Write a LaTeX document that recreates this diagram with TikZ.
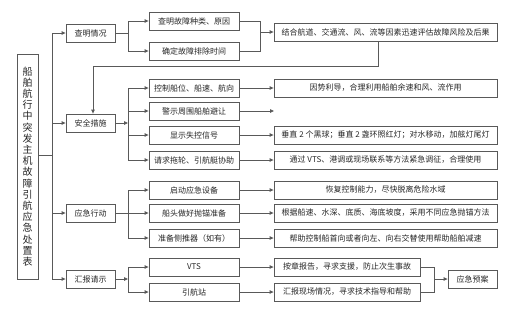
\documentclass[tikz,border=0pt]{standalone}
\usepackage{fontspec}
\newfontfamily\cjk{Noto Sans CJK SC}
\usetikzlibrary{arrows.meta}

\begin{document}
\begin{tikzpicture}[
    x=1pt, y=-1pt,
    every node/.style={font=\cjk\fontsize{8}{9.6}\selectfont, text=black!85},
    box/.style={draw=black!65, line width=0.8pt, minimum height=18pt, inner sep=1pt},
    lvone/.style={box, minimum width=49pt},
    lvtwo/.style={box, minimum width=90pt},
    lvthree/.style={box, minimum width=223pt},
    link/.style={draw=black!65, line width=0.8pt},
    arrow/.style={link, -{Triangle[length=4pt, width=3.5pt]}},
]
\useasboundingbox (0,0) rectangle (514,317);

% ---- 坐标设定 ----
\def\TrunkX{52}
\def\BranchX{128}
\def\MergeX{260}
\def\PlanX{434}
\coordinate (join) at (\TrunkX,155);
\coordinate (bx) at (\BranchX,0);
\coordinate (mx) at (\MergeX,0);
\coordinate (px) at (\PlanX,0);

% ---- 标题 ----
\node[box, minimum width=21pt, minimum height=225pt, align=center,
      font=\cjk\fontsize{10}{11.2}\selectfont] (title) at (27.5,166.5)
    {船\\舶\\航\\行\\中\\突\\发\\主\\机\\故\\障\\引\\航\\应\\急\\处\\置\\表};

% ---- 第一级 ----
\node[lvone] (cha)    at (90.5,33)  {查明情况};
\node[lvone] (anquan) at (90.5,123) {安全措施};
\node[lvone] (yingji) at (90.5,213) {应急行动};
\node[lvone] (huibao) at (90.5,279) {汇报请示};

% ---- 第二级 ----
\node[lvtwo] (guz)      at (194,21)  {查明故障种类、原因};
\node[lvtwo] (qued)     at (194,51)  {确定故障排除时间};
\node[lvtwo] (kongzhi)  at (194,88)  {控制船位、船速、航向};
\node[lvtwo] (jingshi)  at (194,111) {警示周围船舶避让};
\node[lvtwo] (xianshi)  at (194,135) {显示失控信号};
\node[lvtwo] (qiuzhu)   at (194,160) {请求拖轮、引航艇协助};
\node[lvtwo] (qidong)   at (194,190) {启动应急设备};
\node[lvtwo] (chuantou) at (194,213) {船头做好抛锚准备};
\node[lvtwo] (cetui)    at (194,238) {准备侧推器（如有）};
\node[lvtwo] (vts)      at (194,267) {VTS};
\node[lvtwo] (yinhang)  at (194,292) {引航站};

% ---- 第三级 ----
\node[lvthree] (jiehe)   at (385.5,32)  {结合航道、交通流、风、流等因素迅速评估故障风险及后果};
\node[lvthree] (yinshi)  at (385.5,88)  {因势利导，合理利用船舶余速和风、流作用};
\node[lvthree] (chuiz)   at (385.5,135) {垂直 2 个黑球；垂直 2 盏环照红灯；对水移动，加舷灯尾灯};
\node[lvthree] (tongguo) at (385.5,160) {通过 VTS、港调或现场联系等方法紧急调征，合理使用};
\node[lvthree] (huifu)   at (385.5,190) {恢复控制能力，尽快脱离危险水域};
\node[lvthree] (genju)   at (385.5,213) {根据船速、水深、底质、海底坡度，采用不同应急抛锚方法};
\node[lvthree] (bangzhu) at (385.5,238) {帮助控制船首向或者向左、向右交替使用帮助船舶减速};
\node[box, minimum width=146pt] (anzhang)   at (347,267) {按章报告，寻求支援，防止次生事故};
\node[box, minimum width=146pt] (xianchang) at (347,292) {汇报现场情况，寻求技术指导和帮助};
\node[lvone] (yuan) at (472.5,279) {应急预案};

% ---- 主干 ----
\draw[link] (title.east |- join) -- (join);
\foreach \n in {cha,anquan,yingji,huibao}
    \draw[arrow] (join) |- (\n.west);

% ---- 分支 ----
\draw[link] (cha.east) -- (cha.east -| bx);
\foreach \n in {guz,qued}
    \draw[arrow] (cha.east -| bx) |- (\n.west);
\draw[arrow] (anquan.east) -- (anquan.east -| bx);
\foreach \n in {kongzhi,jingshi,xianshi,qiuzhu}
    \draw[arrow] (anquan.east -| bx) |- (\n.west);
\draw[arrow] (yingji.east) -- (chuantou.west);
\foreach \n in {qidong,cetui}
    \draw[arrow] (yingji.east -| bx) |- (\n.west);
\draw[arrow] (huibao.east) -- (huibao.east -| bx);
\foreach \n in {vts,yinhang}
    \draw[arrow] (huibao.east -| bx) |- (\n.west);

% ---- 第二级到第三级 ----
\draw[link] (guz.east) -| (jiehe.west -| mx);
\draw[link] (qued.east) -| (jiehe.west -| mx);
\draw[arrow] (jiehe.west -| mx) -- (jiehe.west);
\foreach \a/\b in {kongzhi/yinshi, xianshi/chuiz, qiuzhu/tongguo, qidong/huifu,
                   chuantou/genju, cetui/bangzhu, vts/anzhang, yinhang/xianchang}
    \draw[arrow] (\a.east) -- (\b.west);
\coordinate (jingshi-end) at (274,111);
\draw[arrow] (jingshi.east) -- (jingshi-end);

% 评估后返回安全措施
\coordinate (turn) at (93,66);
\draw[arrow] ([xshift=-7pt]jiehe.south) |- (turn) -- (turn |- anquan.north);

% 应急预案
\draw[link] (anzhang.east) -| (yuan.west -| px);
\draw[link] (xianchang.east) -| (yuan.west -| px);
\draw[arrow] (yuan.west -| px) -- (yuan.west);

\end{tikzpicture}
\end{document}
